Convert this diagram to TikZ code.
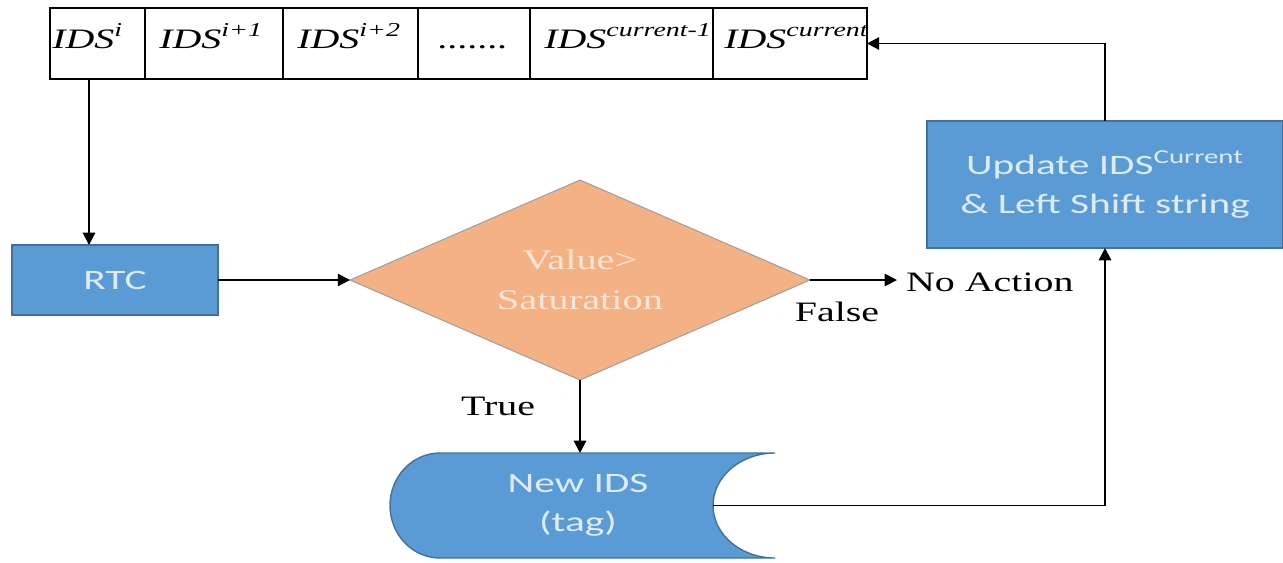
\documentclass[tikz,border=0pt]{standalone}
\usepackage{fontspec}
\usetikzlibrary{arrows.meta,shapes.geometric}
\newfontfamily\chartserif[FakeStretch=1.42]{Liberation Serif}
\newfontfamily\chartsans[FakeStretch=1.47]{Carlito}
\definecolor{procfill}{HTML}{5B9BD5}
\definecolor{procedge}{HTML}{41719C}
\definecolor{proctext}{HTML}{DDEBF7}
\definecolor{decfill}{HTML}{F4B183}
\definecolor{decedge}{HTML}{A0A0A0}
\definecolor{dectext}{HTML}{FBE5D6}
\tikzset{
    flow/.style={line width=1.1pt, -{Triangle[length=7pt, width=7pt]}},
    procbox/.style={draw=procedge, fill=procfill, line width=0.8pt, text=proctext,
        font=\chartsans\fontsize{16}{22}\selectfont, align=center, inner sep=0pt, outer sep=0pt},
    decision/.style={diamond, aspect=2.3, draw=decedge, fill=decfill, line width=0.6pt, text=dectext,
        font=\chartserif\fontsize{16.2}{22.7}\selectfont, align=center, inner sep=0pt, outer sep=0pt},
    plainlabel/.style={font=\chartserif\fontsize{16}{20}\selectfont, inner sep=0pt},
    idslabel/.style={font=\chartserif\itshape\fontsize{16}{20}\selectfont, anchor=base west, inner sep=0pt}
}
\begin{document}
\begin{tikzpicture}[x=0.02cm, y=-0.02cm]
    \useasboundingbox (0, 0) rectangle (1283, 562);
    \node (ids1) [idslabel] at (52, 48) {IDS\textsuperscript{i}};
    \node (ids2) [idslabel] at (159, 48) {IDS\textsuperscript{i+1}};
    \node (ids3) [idslabel] at (297, 48) {IDS\textsuperscript{i+2}};
    \node (idsdots) [idslabel, font=\chartserif\fontsize{16}{20}\selectfont] at (437, 48) {.......};
    \node (ids5) [idslabel] at (544, 48) {IDS\textsuperscript{current-1}};
    \node (ids6) [idslabel] at (724, 48) {IDS\textsuperscript{current}};
    \node (strip) [draw, line width=1.2pt, minimum width=16.34cm, minimum height=1.42cm, inner sep=0pt, outer sep=0pt] at (458.5, 43.5) {};
    \foreach \x in {145, 283, 418, 530, 713}
        \draw [line width=1.2pt] (\x, 8) -- (\x, 79);
    \node (rtc) [procbox, minimum width=4.12cm, minimum height=1.4cm] at (115, 280) {RTC};
    \node (dec) [decision, minimum width=9.2cm, minimum height=4cm] at (580, 280) {Value>\\Saturation};
    \node (update) [procbox, minimum width=7.12cm, minimum height=2.54cm] at (1105, 184.5) {Update IDS\textsuperscript{Current}\\\& Left Shift string};
    \filldraw [draw=procedge, fill=procfill, line width=0.8pt] (440, 453) -- (775, 453)
        arc [start angle=270, end angle=90, x radius=62, y radius=52.5] -- (440, 558)
        arc [start angle=90, end angle=270, x radius=50, y radius=52.5] -- cycle;
    \node (newids) [procbox, draw=none, fill=none, minimum width=7.7cm, minimum height=2.1cm] at (578, 505.5) {New IDS\\(tag)};
    \coordinate (tagout) at (713, 505.5);
    \coordinate (stripout) at (89, 79);
    \node (noact) [plainlabel, inner xsep=5pt, anchor=west] at (897, 282) {No Action};
    \node (falselbl) [plainlabel] at (837, 312) {False};
    \node (truelbl) [plainlabel] at (498, 406) {True};
    \draw [flow] (stripout) -- (stripout |- rtc.north);
    \draw [flow] (rtc.east) -- (dec.west);
    \draw [flow] (dec.east) -- (dec.east -| noact.west);
    \draw [flow] (dec.south) -- (dec.south |- newids.north);
    \draw [flow] (tagout) -| (update.south);
    \draw [flow] (update.north) |- (strip.east);
\end{tikzpicture}
\end{document}
